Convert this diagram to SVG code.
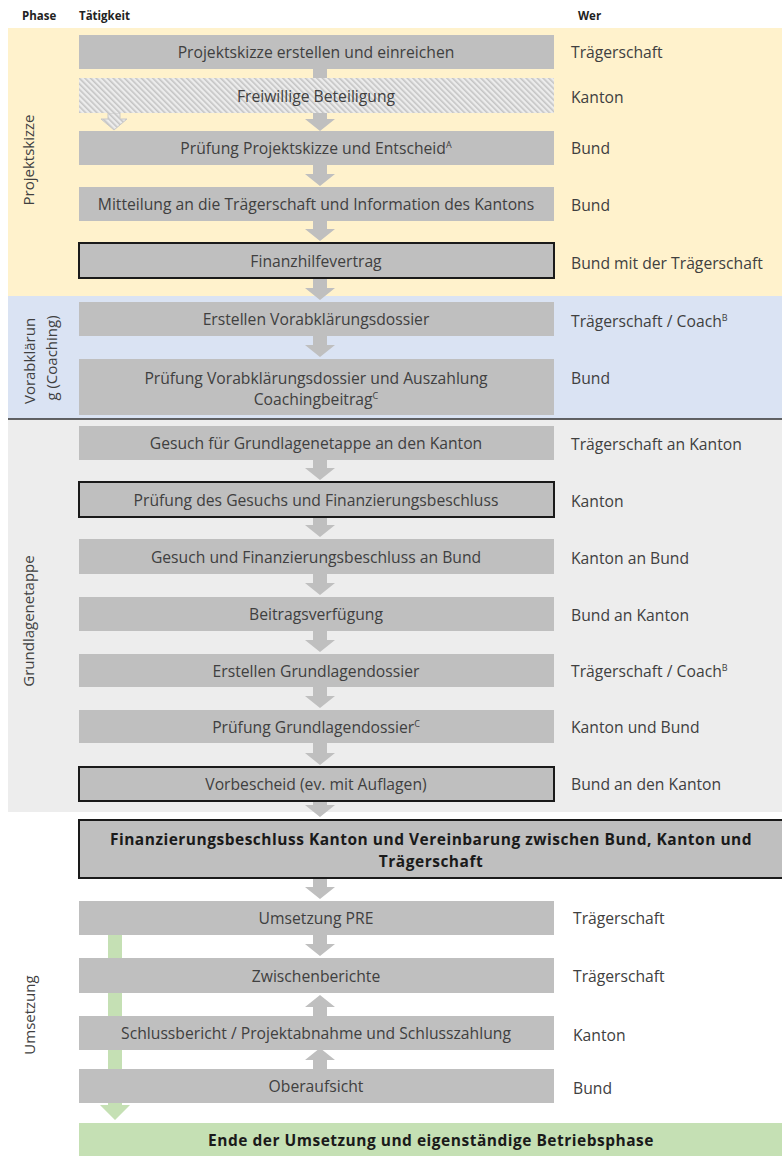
<svg xmlns="http://www.w3.org/2000/svg" width="782" height="1156" viewBox="0 0 782 1156">
<style>
.t{font-family:"Open Sans","Liberation Sans",sans-serif;font-size:15.7px;fill:#404040}
.p{font-family:"Open Sans","Liberation Sans",sans-serif;font-size:15px;fill:#404040}
.c{text-anchor:middle}
.b{font-weight:bold;fill:#1a1a1a;font-size:15.5px;letter-spacing:0.5px}
.h{font-family:"Open Sans","Liberation Sans",sans-serif;font-size:11.5px;font-weight:bold;fill:#222}
.box{fill:#bfbfbf}
.ob{fill:#bfbfbf;stroke:#1a1a1a;stroke-width:2}
.ar{fill:#bfbfbf}
.sup{font-size:9px}
</style>
<defs>
<pattern id="hatch" width="4" height="4" patternUnits="userSpaceOnUse" patternTransform="rotate(-45)">
<rect width="4" height="4" fill="#ececec"/>
<rect width="1.6" height="4" fill="#c4c4c4"/>
</pattern>
</defs>
<rect width="782" height="1156" fill="#fff"/>
<!-- bands -->
<rect x="8" y="28" width="774" height="268" fill="#fff2cc"/>
<rect x="8" y="296" width="774" height="123" fill="#dae3f3"/>
<rect x="8" y="419" width="774" height="393" fill="#ededed"/>
<line x1="8" y1="419" x2="782" y2="419" stroke="#333" stroke-width="1.5"/>
<!-- headers -->
<text class="h" x="22" y="20">Phase</text>
<text class="h" x="79" y="20">Tätigkeit</text>
<text class="h" x="578" y="20">Wer</text>
<!-- phase labels -->
<text class="p" transform="translate(28,160) rotate(-90)" text-anchor="middle" dominant-baseline="central">Projektskizze</text>
<text class="p" transform="translate(29,361) rotate(-90)" text-anchor="middle" dominant-baseline="central">Vorabklärun</text>
<text class="p" transform="translate(51,358) rotate(-90)" text-anchor="middle" dominant-baseline="central">g (Coaching)</text>
<text class="p" transform="translate(28,621) rotate(-90)" text-anchor="middle" dominant-baseline="central">Grundlagenetappe</text>
<text class="p" transform="translate(29,1015) rotate(-90)" text-anchor="middle" dominant-baseline="central">Umsetzung</text>
<!-- connectors (behind) -->
<g id="connectors">
<path class="ar" d="M313,69 H327 V119 H335 L320,131 L305,119 H313 Z"/>
<path class="ar" d="M313,165 H327 V174 H335 L320,186 L305,174 H313 Z"/>
<path class="ar" d="M313,221 H327 V229 H335 L320,241 L305,229 H313 Z"/>
<path class="ar" d="M313,278 H327 V288 H335 L320,300 L305,288 H313 Z"/>
<path class="ar" d="M313,336 H327 V345 H335 L320,357 L305,345 H313 Z"/>
<path class="ar" d="M313,460 H327 V468 H335 L320,480 L305,468 H313 Z"/>
<path class="ar" d="M313,517 H327 V525 H335 L320,537 L305,525 H313 Z"/>
<path class="ar" d="M313,574 H327 V583 H335 L320,595 L305,583 H313 Z"/>
<path class="ar" d="M313,631 H327 V640 H335 L320,652 L305,640 H313 Z"/>
<path class="ar" d="M313,687 H327 V696 H335 L320,708 L305,696 H313 Z"/>
<path class="ar" d="M313,743 H327 V753 H335 L320,765 L305,753 H313 Z"/>
<path class="ar" d="M313,801 H327 V805 H335 L320,817 L305,805 H313 Z"/>
<path class="ar" d="M313,878 H327 V887 H335 L320,899 L305,887 H313 Z"/>
<path class="ar" d="M313,935 H327 V944 H335 L320,956 L305,944 H313 Z"/>
<path class="ar" d="M313,1016 H327 V1007 H335 L320,995 L305,1007 H313 Z"/>
<path class="ar" d="M313,1069 H327 V1060 H335 L320,1048 L305,1060 H313 Z"/>
<path d="M108,935 H122 V1105 H130 L115,1120 L100,1105 H108 Z" fill="#c5e0b4"/>
<path d="M108,113 H120 V119 H127 L114,130 L101,119 H108 Z" fill="url(#hatch)" stroke="#c8c8c8" stroke-width="1"/>
</g>
<!-- nodes -->
<g id="n1"><rect class="box" x="79" y="35" width="475" height="34"/><text class="t c" x="316" y="57.5">Projektskizze erstellen und einreichen</text><text class="t" x="571" y="57.5">Trägerschaft</text></g>
<g id="n2"><rect x="79" y="78" width="475" height="35" fill="url(#hatch)"/><text class="t c" x="316" y="101.5">Freiwillige Beteiligung</text><text class="t" x="571" y="102.5">Kanton</text></g>
<g id="n3"><rect class="box" x="79" y="131" width="475" height="34"/><text class="t c" x="316" y="153.5">Prüfung Projektskizze und Entscheid<tspan class="sup" dy="-6">A</tspan></text><text class="t" x="571" y="153.5">Bund</text></g>
<g id="n4"><rect class="box" x="79" y="187" width="475" height="34"/><text class="t c" x="316" y="209.5">Mitteilung an die Trägerschaft und Information des Kantons</text><text class="t" x="571" y="210.5">Bund</text></g>
<g id="n5"><rect class="ob" x="79" y="243" width="475" height="35"/><text class="t c" x="316" y="266.5">Finanzhilfevertrag</text><text class="t" x="571" y="268.5">Bund mit der Trägerschaft</text></g>
<g id="n6"><rect class="box" x="79" y="302" width="475" height="34"/><text class="t c" x="316" y="324.5">Erstellen Vorabklärungsdossier</text><text class="t" x="571" y="326.5">Trägerschaft / Coach<tspan class="sup" dy="-6">B</tspan></text></g>
<g id="n7"><rect class="box" x="79" y="359" width="475" height="56"/><text class="t c" x="316" y="383.5">Prüfung Vorabklärungsdossier und Auszahlung</text><text class="t c" x="316" y="404.5">Coachingbeitrag<tspan class="sup" dy="-6">C</tspan></text><text class="t" x="571" y="383.5">Bund</text></g>
<g id="n8"><rect class="box" x="79" y="426" width="475" height="34"/><text class="t c" x="316" y="448.5">Gesuch für Grundlagenetappe an den Kanton</text><text class="t" x="571" y="449.5">Trägerschaft an Kanton</text></g>
<g id="n9"><rect class="ob" x="79" y="482" width="475" height="35"/><text class="t c" x="316" y="505.5">Prüfung des Gesuchs und Finanzierungsbeschluss</text><text class="t" x="571" y="506.5">Kanton</text></g>
<g id="n10"><rect class="box" x="79" y="539" width="475" height="35"/><text class="t c" x="316" y="562.5">Gesuch und Finanzierungsbeschluss an Bund</text><text class="t" x="571" y="563.5">Kanton an Bund</text></g>
<g id="n11"><rect class="box" x="79" y="597" width="475" height="34"/><text class="t c" x="316" y="619.5">Beitragsverfügung</text><text class="t" x="571" y="620.5">Bund an Kanton</text></g>
<g id="n12"><rect class="box" x="79" y="654" width="475" height="33"/><text class="t c" x="316" y="676.5">Erstellen Grundlagendossier</text><text class="t" x="571" y="676.5">Trägerschaft / Coach<tspan class="sup" dy="-6">B</tspan></text></g>
<g id="n13"><rect class="box" x="79" y="710" width="475" height="33"/><text class="t c" x="316" y="732.5">Prüfung Grundlagendossier<tspan class="sup" dy="-6">C</tspan></text><text class="t" x="571" y="732.5">Kanton und Bund</text></g>
<g id="n14"><rect class="ob" x="79" y="767" width="475" height="34"/><text class="t c" x="316" y="789.5">Vorbescheid (ev. mit Auflagen)</text><text class="t" x="571" y="789.5">Bund an den Kanton</text></g>
<g id="n15"><rect class="ob" x="79" y="820" width="705" height="58"/><text class="t c b" x="431" y="844.5">Finanzierungsbeschluss Kanton und Vereinbarung zwischen Bund, Kanton und</text><text class="t c b" x="431" y="866.5">Trägerschaft</text></g>
<g id="n16"><rect class="box" x="79" y="901" width="475" height="34"/><text class="t c" x="316" y="923.5">Umsetzung PRE</text><text class="t" x="573" y="923.5">Trägerschaft</text></g>
<g id="n17"><rect class="box" x="79" y="958" width="475" height="35"/><text class="t c" x="316" y="981.5">Zwischenberichte</text><text class="t" x="573" y="981.5">Trägerschaft</text></g>
<g id="n18"><rect class="box" x="79" y="1016" width="475" height="34"/><text class="t c" x="316" y="1038.5">Schlussbericht / Projektabnahme und Schlusszahlung</text><text class="t" x="573" y="1040.5">Kanton</text></g>
<g id="n19"><rect class="box" x="79" y="1069" width="475" height="34"/><text class="t c" x="316" y="1091.5">Oberaufsicht</text><text class="t" x="573" y="1093.5">Bund</text></g>
<g id="n20"><rect x="79" y="1123" width="703" height="33" fill="#c5e0b4"/><text class="t c b" x="431" y="1146">Ende der Umsetzung und eigenständige Betriebsphase</text></g>
</svg>
